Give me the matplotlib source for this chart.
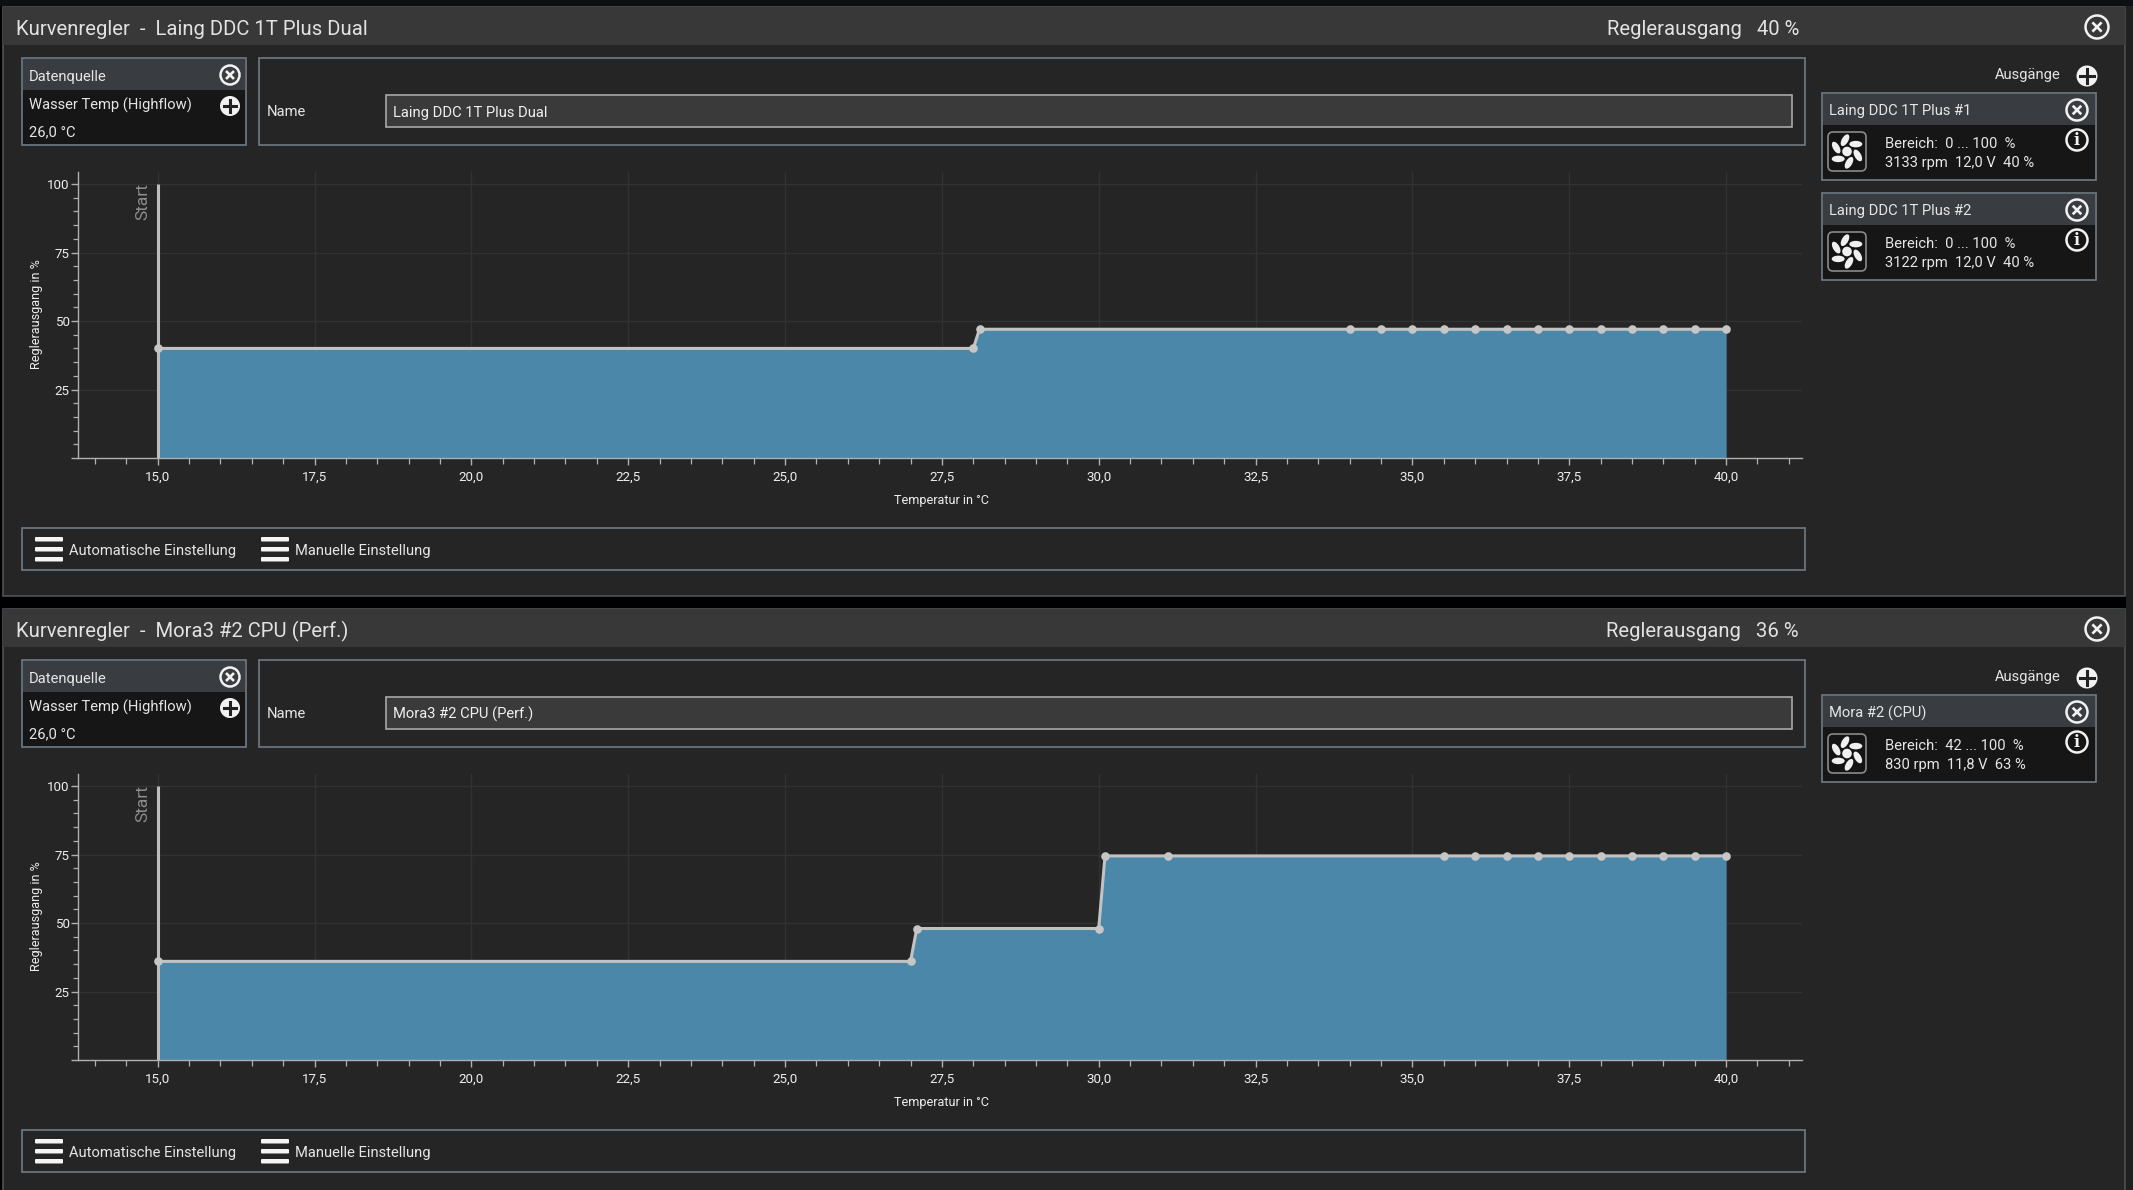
import numpy as np
import matplotlib
matplotlib.use("Agg")
import matplotlib.pyplot as plt
from matplotlib.patches import Rectangle, Circle, FancyBboxPatch, Ellipse
from matplotlib.ticker import MultipleLocator, FuncFormatter

plt.rcParams['font.family'] = ['Roboto', 'DejaVu Sans']

W, H, DPI = 2133, 1190, 100

# ---- data ----
titles = ["Laing DDC 1T Plus Dual", "Mora3 #2 CPU (Perf.)"]
outputs_pct = ["40 %", "36 %"]
source_name = "Wasser Temp (Highflow)"
source_value = "26,0 °C"
curve1_x = [15, 28, 28.1, 34, 34.5, 35, 35.5, 36, 36.5, 37, 37.5, 38, 38.5, 39, 39.5, 40]
curve1_y = [40, 40, 47, 47, 47, 47, 47, 47, 47, 47, 47, 47, 47, 47, 47, 47]
curve2_x = [15, 27, 27.1, 30, 30.1, 31.1, 35.5, 36, 36.5, 37, 37.5, 38, 38.5, 39, 39.5, 40]
curve2_y = [36, 36, 48, 48, 74.5, 74.5, 74.5, 74.5, 74.5, 74.5, 74.5, 74.5, 74.5, 74.5, 74.5, 74.5]
cards1 = [("Laing DDC 1T Plus #1", "Bereich:  0 ... 100  %", "3133 rpm  12,0 V  40 %"),
          ("Laing DDC 1T Plus #2", "Bereich:  0 ... 100  %", "3122 rpm  12,0 V  40 %")]
cards2 = [("Mora #2 (CPU)", "Bereich:  42 ... 100  %", "830 rpm  11,8 V  63 %")]

BG = '#252525'; BAR = '#383838'; EDGE = '#6f7b86'; DARK = '#161616'
TXT = '#e6e6e6'; FILL = '#4a87a8'; LINE = '#c2c2c2'; GRID = '#323232'
SMALL = 10.6

fig = plt.figure(figsize=(W / DPI, H / DPI), dpi=DPI, facecolor='#000000')
ui = fig.add_axes([0, 0, 1, 1], zorder=0)
ui.set_xlim(0, W); ui.set_ylim(H, 0); ui.axis('off')


def rect(x0, y0, x1, y1, fc='none', ec='none', lw=1.2, z=1):
    ui.add_patch(Rectangle((x0, y0), x1 - x0, y1 - y0, fc=fc, ec=ec, lw=lw, zorder=z))


def txt(x, y, s, size=11, color=TXT, ha='left', **kw):
    ui.text(x, y + 1.5, s, fontsize=size, color=color, ha=ha, va='center', zorder=5, **kw)


def close_icon(cx, cy, r):
    ui.add_patch(Circle((cx, cy), r, fc='none', ec='#f2f2f2', lw=1.8, zorder=5))
    d = r * 0.32
    ui.plot([cx - d, cx + d], [cy - d, cy + d], color='#f2f2f2', lw=1.9, zorder=5)
    ui.plot([cx - d, cx + d], [cy + d, cy - d], color='#f2f2f2', lw=1.9, zorder=5)


def plus_icon(cx, cy, r):
    ui.add_patch(Circle((cx, cy), r, fc='#f2f2f2', ec='none', zorder=5))
    d = r * 0.62
    ui.plot([cx - d, cx + d], [cy, cy], color='#222222', lw=2.2, zorder=6)
    ui.plot([cx, cx], [cy - d, cy + d], color='#222222', lw=2.2, zorder=6)


def info_icon(cx, cy, r):
    ui.add_patch(Circle((cx, cy), r, fc='none', ec='#f2f2f2', lw=1.8, zorder=5))
    ui.text(cx, cy + 0.5, 'i', color='#f2f2f2', fontsize=11.5, ha='center', va='center',
            family='DejaVu Serif', weight='bold', zorder=6)


def fan_icon(x0, y0, x1, y1):
    ui.add_patch(FancyBboxPatch((x0 + 3, y0 + 3), x1 - x0 - 6, y1 - y0 - 6,
                                boxstyle='round,pad=3,rounding_size=5', fc='#141414', ec='#8a8a8a',
                                lw=1.2, zorder=4))
    cx, cy = (x0 + x1) / 2, (y0 + y1) / 2
    for a in range(20, 380, 60):
        t = np.deg2rad(a)
        ui.add_patch(Ellipse((cx + 11.5 * np.cos(t), cy + 11.5 * np.sin(t)), 13, 6.5, angle=a + 40,
                             fc='#f0f0f0', ec='none', zorder=5))
    ui.add_patch(Circle((cx, cy), 4.8, fc='#f0f0f0', ec='none', zorder=5))


def hamburger(x0, x1, y0):
    for dy in (0, 10, 20):
        ui.add_patch(FancyBboxPatch((x0 + 1, y0 + dy + 1), x1 - x0 - 2, 2.5,
                                    boxstyle='round,pad=1', fc='#f5f5f5', ec='none', zorder=5))


def panel(off, title, pct, cards, xs, ys, bottom):
    rect(3, off + 7, 2125, bottom, fc=BG, ec='#4e5358', lw=1.2, z=0.5)
    rect(3, off + 7, 2125, off + 45, fc=BAR, z=0.6)
    txt(16, off + 28, f"Kurvenregler  -  {title}", size=14.6, color='#e2e2e2')
    txt(1799, off + 28, f"Reglerausgang   {pct}", size=14.6, color='#e2e2e2', ha='right')
    close_icon(2097, off + 27, 11.5)

    # data source
    rect(22, off + 58, 246, off + 145, fc=DARK, ec=EDGE)
    rect(23, off + 59, 245, off + 90, fc='#393c40')
    txt(29, off + 75, "Datenquelle", size=SMALL)
    txt(29, off + 104, source_name, size=SMALL)
    txt(29, off + 131, source_value, size=SMALL)
    close_icon(230, off + 75, 9.5)
    plus_icon(230, off + 106, 10)

    # name box
    rect(259, off + 58, 1805, off + 145, fc='#252525', ec=EDGE)
    txt(267, off + 111, "Name", size=SMALL)
    rect(386, off + 95, 1792, off + 127, fc='#3a3a3a', ec='#a8a8a8')
    txt(393, off + 111, title, size=SMALL, color='#f0f0f0')

    # outputs
    txt(2061, off + 74, "Ausgänge", size=SMALL, ha='right')
    plus_icon(2087, off + 76, 10.5)
    for i, (name, l1, l2) in enumerate(cards):
        c = off + 100 * i
        rect(1822, c + 93, 2096, c + 180, fc=DARK, ec=EDGE)
        rect(1823, c + 94, 2095, c + 125, fc='#393c40')
        txt(1829, c + 110, name, size=SMALL)
        close_icon(2077, c + 110, 10.5)
        info_icon(2077, c + 140, 10.5)
        fan_icon(1828, c + 132, 1866, c + 171)
        txt(1885, c + 142, l1, size=SMALL)
        txt(1885, c + 162, l2, size=SMALL)

    # buttons
    rect(22, off + 528, 1805, off + 570, fc=BG, ec=EDGE)
    hamburger(35, 63, off + 537)
    txt(69, off + 549, "Automatische Einstellung", size=SMALL)
    hamburger(261, 289, off + 537)
    txt(295, off + 549, "Manuelle Einstellung", size=SMALL)

    # chart axes (pixel placement derived from the screenshot)
    left, right, top, bot = 78, 1802, off + 172, off + 458
    ax = fig.add_axes([left / W, 1 - bot / H, (right - left) / W, (bot - top) / H], zorder=2)
    ax.patch.set_alpha(0)
    ax.set_xlim(13.73, 41.21)
    ax.set_ylim(0, 104.4)
    for s in ('top', 'right'):
        ax.spines[s].set_visible(False)
    for s in ('left', 'bottom'):
        ax.spines[s].set_color('#b0b0b0')
        ax.spines[s].set_linewidth(1.0)
    ax.xaxis.set_major_locator(MultipleLocator(2.5))
    ax.xaxis.set_minor_locator(MultipleLocator(0.5))
    ax.yaxis.set_major_locator(MultipleLocator(25))
    ax.yaxis.set_minor_locator(MultipleLocator(5))
    ax.xaxis.set_major_formatter(FuncFormatter(lambda v, p: f"{v:.1f}".replace('.', ',')))
    ax.yaxis.set_major_formatter(FuncFormatter(lambda v, p: '' if v == 0 else f"{v:.0f}"))
    ax.tick_params(which='major', axis='x', length=5, width=1, color='#b0b0b0', labelcolor='#eeeeee',
                   labelsize=9.6, pad=4)
    ax.tick_params(which='minor', axis='x', length=4, width=0.9, color='#b0b0b0')
    ax.tick_params(which='major', axis='y', length=5, width=1, color='#b0b0b0', labelcolor='#eeeeee',
                   labelsize=9.6, pad=1)
    ax.tick_params(which='minor', axis='y', length=3.5, width=0.9, color='#b0b0b0')
    ax.grid(which='major', color=GRID, lw=1.0, zorder=0)
    ax.set_axisbelow(True)
    ax.set_xlabel("Temperatur in °C", fontsize=9.1, color='#eeeeee')
    ax.xaxis.set_label_coords((941 - left) / (right - left), -(494 - 458) / (bot - top))
    ax.set_ylabel("Reglerausgang in %", fontsize=9.1, color='#eeeeee')
    ax.yaxis.set_label_coords((43 - left) / (right - left), (458 - 314) / (bot - top))

    ax.fill_between(xs, 0, ys, color=FILL, lw=0, zorder=2)
    ax.plot([xs[0], xs[0]], [0, 100], color='#bdbdbd', lw=2.2, zorder=3, solid_capstyle='butt')
    ax.plot(xs, ys, color=LINE, lw=2.2, zorder=4, marker='o', ms=6.2, mfc='#c6c6c6', mec='none')
    ax.annotate("Start", xy=(xs[0], 100), xytext=(-5.5, 1), textcoords='offset points', rotation=90,
                fontsize=12.5, color='#8d8d8d', ha='right', va='top', zorder=5)


rect(0, 0, W, 6, fc='#0d0f12', z=0.1)
rect(2126, 6, W, H, fc='#202020', z=0.1)
panel(0, titles[0], outputs_pct[0], cards1, curve1_x, curve1_y, 596)
panel(602, titles[1], outputs_pct[1], cards2, curve2_x, curve2_y, H + 5)

fig.savefig('out.png', dpi=DPI, facecolor=fig.get_facecolor())
